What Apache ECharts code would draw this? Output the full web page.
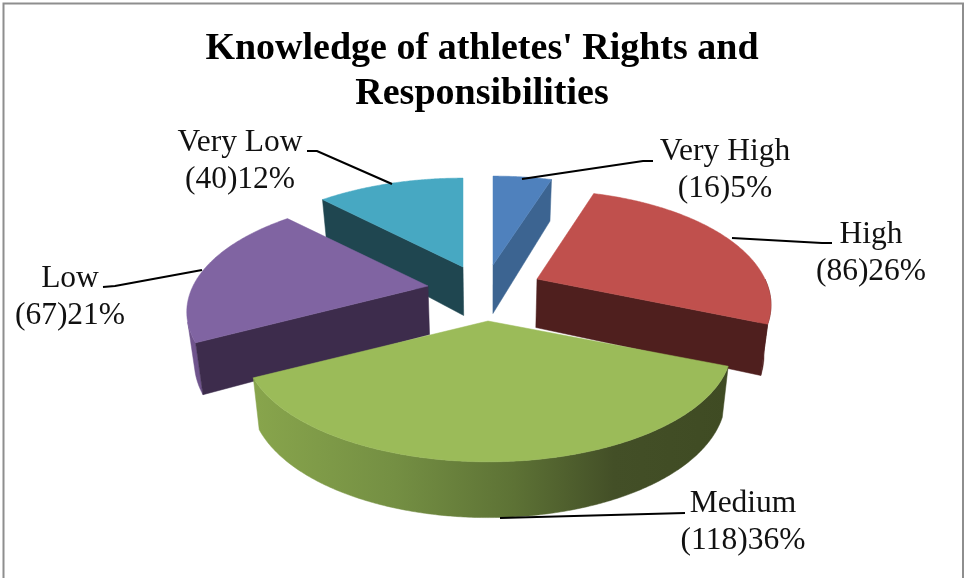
<!DOCTYPE html>
<html>
<head>
<meta charset="utf-8">
<style>html,body{margin:0;padding:0;background:#fff}#c{width:964px;height:578px}</style>
<script src="https://cdn.jsdelivr.net/npm/echarts@6/dist/echarts.min.js"></script>
</head>
<body>
<div id="c"></div>
<script>
const titleText = "Knowledge of athletes' Rights and\nResponsibilities";
const categories = ['Very High', 'High', 'Medium', 'Low', 'Very Low'];
const counts = [16, 86, 118, 67, 40];
const percents = [5, 26, 36, 21, 12];

// styling and projection, kept apart from the data
const topColors = ['#4f81bd', '#c0504d', '#9bbb59', '#8064a2', '#47a8c2'];
const cutColors = ['#3c6491', '#4f1f1e', '#5f7436', '#3d2c4c', '#1f4650'];
const outerColors = ['#3c6491', '#4f1f1e', null, '#6f548c', '#1f4650'];
const apexes = [[493, 265], [537, 279], [488, 321], [428, 286], [463, 267]];
const xScale = [1, 0.97, 1.01, 1, 1];
const layerOrder = [0, 3, 4, 2, 1];
const labelCenters = [[725, 152], [871, 235], [743, 504], [70, 279], [240, 143]];
const labelGap = 37;
const leaders = [
  [[522, 179], [643, 161], [653, 161]],
  [[732, 238], [822, 243], [832, 243]],
  [[500, 518], [685, 513]],
  [[103, 287], [115, 286], [202, 270]],
  [[307, 151], [317, 151], [392, 184]]
];
const R = 235, K = 109, A = 0.226, DEPTH = 48.5, VX = 490, SHRINK = 0.975;
const WALL_FROM = 90, WALL_TO = 252;
const total = counts.reduce((a, b) => a + b, 0);

function pt(i, deg) {
  const t = deg * Math.PI / 180, X = Math.sin(t), n = -Math.cos(t), p = 1 / (1 - A * n);
  return { x: apexes[i][0] + R * xScale[i] * X * p, y: apexes[i][1] + K * n * p, n };
}
function low(q) {
  return { x: VX + (q.x - VX) * SHRINK, y: q.y + DEPTH * (1 + 0.15 * q.n), n: q.n };
}
function arc(i, a, b) {
  const out = [], steps = Math.max(2, Math.ceil((b - a) * 2));
  for (let s = 0; s <= steps; s++) out.push(pt(i, a + (b - a) * s / steps));
  return out;
}
const xy = q => [q.x, q.y];

function renderItem(params, api) {
  const i = api.value(0), v = api.value(1);
  let before = 0;
  for (let k = 0; k < i; k++) before += counts[k];
  const a = before / total * 360, b = (before + v) / total * 360;
  const z = layerOrder[i] * 10;
  const apex = { x: apexes[i][0], y: apexes[i][1], n: 0 };
  const kids = [];
  const poly = (points, fill, dz) => kids.push({
    type: 'polygon', z2: z + dz, shape: { points },
    style: { fill, stroke: fill, lineWidth: 0.5 }
  });
  // flat cut faces that look toward the viewer
  const cut = deg => {
    const e = pt(i, deg);
    poly([xy(apex), xy(e), xy(low(e)), xy(low(apex))], cutColors[i], 1);
  };
  if (b < 180) cut(b);
  if (a > 180) cut(a);
  // curved outer wall
  const wa = Math.max(a, WALL_FROM), wb = Math.min(b, WALL_TO);
  if (wb > wa) {
    const top = arc(i, wa, wb);
    const fill = outerColors[i] || {
      type: 'linear', x: 253, y: 0, x2: 728, y2: 0, global: true,
      colorStops: [
        { offset: 0, color: '#88a54c' }, { offset: 0.3, color: '#748f43' },
        { offset: 0.55, color: '#5d7235' }, { offset: 0.76, color: '#434f27' },
        { offset: 1, color: '#3f4b23' }
      ]
    };
    poly(top.map(xy).concat(top.map(low).reverse().map(xy)), fill, 0);
  }
  // top face
  poly([xy(apex)].concat(arc(i, a, b).map(xy)), topColors[i], 2);
  // leader and label
  kids.push({
    type: 'polyline', z2: 100, shape: { points: leaders[i] },
    style: { fill: null, stroke: '#000', lineWidth: 2.2 }
  });
  const txt = (text, x, y) => kids.push({
    type: 'text', z2: 101,
    style: { text, x, y, fill: '#111', font: '31.5px "Liberation Serif"', textAlign: 'center', textVerticalAlign: 'middle' }
  });
  const c = labelCenters[i];
  txt(categories[i], c[0], c[1]);
  txt('(' + v + ')' + percents[i] + '%', c[0], c[1] + labelGap);
  return { type: 'group', children: kids };
}

const chart = echarts.init(document.getElementById('c'), null, { renderer: 'canvas' });
chart.setOption({
  animation: false,
  backgroundColor: '#fff',
  title: {
    text: titleText, left: 'center', top: 22,
    textStyle: { fontFamily: 'Liberation Serif', fontWeight: 'bold', fontSize: 38, lineHeight: 45, color: '#000' }
  },
  graphic: [{
    type: 'polyline', silent: true,
    shape: { points: [[3.5, 578], [3.5, 3.5], [963, 3.5], [963, 578]] },
    style: { fill: null, stroke: '#8e8e8e', lineWidth: 2 }
  }],
  series: [{
    type: 'custom', coordinateSystem: 'none', silent: true,
    data: counts.map((v, i) => [i, v]),
    renderItem
  }]
});
</script>
</body>
</html>
